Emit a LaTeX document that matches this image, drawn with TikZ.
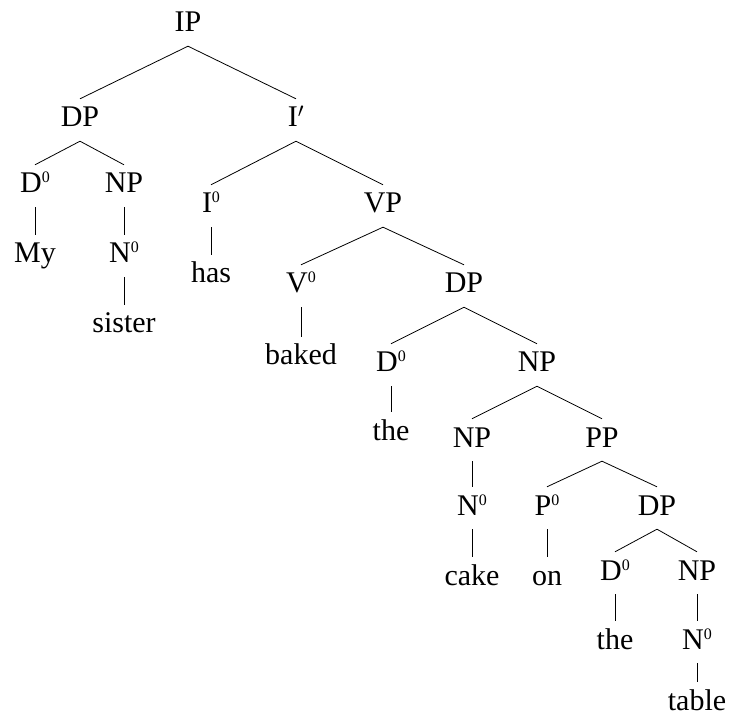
\documentclass[tikz,border=0pt]{standalone}
\usepackage{fontspec}
\setmainfont{Liberation Serif}
% small raised zero for head labels
\newcommand{\zr}{\raisebox{10pt}{\fontsize{16}{16}\selectfont 0}}
\begin{document}
\begin{tikzpicture}[x=1pt,y=-1pt,
    every node/.style={anchor=base,inner sep=0pt,text height=28pt,text depth=14pt,
      font=\fontsize{30}{36}\selectfont}]
      \useasboundingbox (0,0) rectangle (729,722);
      \draw
        (188,32) node (ip){IP}
        (80,127) node (dp){DP}
        (296,127) node (ibar){I$'$}
        (35,193) node (d0){D\zr}
        (124,193) node (np){NP}
        (35,263) node (my){My}
        (124,263) node (n0){N\zr}
        (124,333) node (sister){sister}
        (211,213) node (i0){I\zr}
        (383,213) node (vp){VP}
        (211,283) node (has){has}
        (301,293) node (v0){V\zr}
        (464,293) node (dpobj){DP}
        (301,365) node (baked){baked}
        (391,372) node (d0obj){D\zr}
        (537,372) node (npobj){NP}
        (391,440) node (the){the}
        (472,447) node (npcake){NP}
        (602,447) node (pp){PP}
        (472,515) node (n0cake){N\zr}
        (547,515) node (p0){P\zr}
        (657,515) node (dppp){DP}
        (472,585) node (cake){cake}
        (547,585) node (on){on}
        (615,580) node (d0tab){D\zr}
        (697,580) node (nptab){NP}
        (615,649) node (thetab){the}
        (697,649) node (n0tab){N\zr}
        (697,710) node (table){table};
      \begin{scope}[line width=0.8pt]
        \draw (ip.south) to (dp.north);
        \draw (ip.south) to (ibar.north);
        \draw (dp.south) to (d0.north);
        \draw (dp.south) to (np.north);
        \draw (d0.south) to (my.north);
        \draw (np.south) to (n0.north);
        \draw (n0.south) to (sister.north);
        \draw (ibar.south) to (i0.north);
        \draw (ibar.south) to (vp.north);
        \draw (i0.south) to (has.north);
        \draw (vp.south) to (v0.north);
        \draw (vp.south) to (dpobj.north);
        \draw (v0.south) to (baked.north);
        \draw (dpobj.south) to (d0obj.north);
        \draw (dpobj.south) to (npobj.north);
        \draw (d0obj.south) to (the.north);
        \draw (npobj.south) to (npcake.north);
        \draw (npobj.south) to (pp.north);
        \draw (npcake.south) to (n0cake.north);
        \draw (n0cake.south) to (cake.north);
        \draw (pp.south) to (p0.north);
        \draw (pp.south) to (dppp.north);
        \draw (p0.south) to (on.north);
        \draw (dppp.south) to (d0tab.north);
        \draw (dppp.south) to (nptab.north);
        \draw (d0tab.south) to (thetab.north);
        \draw (nptab.south) to (n0tab.north);
        \draw (n0tab.south) to (table.north);
      \end{scope}
\end{tikzpicture}
\end{document}
